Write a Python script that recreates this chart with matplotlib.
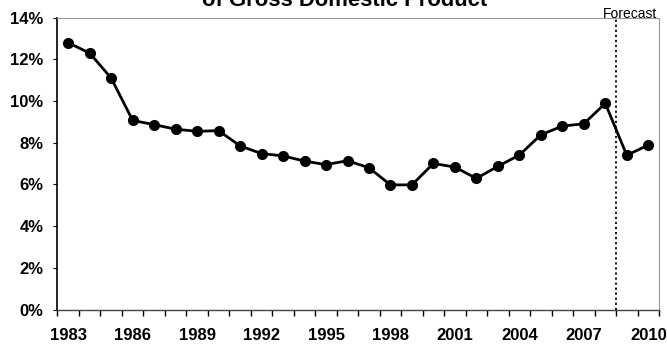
import matplotlib
matplotlib.use("Agg")
import matplotlib.pyplot as plt
from matplotlib.ticker import FixedLocator, FuncFormatter

plt.rcParams['font.family'] = ['Liberation Sans', 'DejaVu Sans']

years = list(range(1983, 2011))
share_pct = [12.8, 12.3, 11.1, 9.07, 8.87, 8.65, 8.55, 8.58, 7.85, 7.48,
             7.37, 7.12, 6.95, 7.14, 6.80, 5.98, 5.98, 7.01, 6.83, 6.29,
             6.87, 7.41, 8.38, 8.80, 8.91, 9.89, 7.40, 7.89]
label_years = [1983, 1986, 1989, 1992, 1995, 1998, 2001, 2004, 2007, 2010]
y_ticks = [0, 2, 4, 6, 8, 10, 12, 14]
forecast_start = 2009

fig = plt.figure(figsize=(6.67, 3.47), dpi=100)
ax = fig.add_axes([0.0862, 0.108, 0.9018, 0.841])

x = list(range(len(years)))
ax.plot(x, share_pct, color='black', lw=2.0, marker='o', ms=7,
        markerfacecolor='black', markeredgecolor='black', zorder=3)

ax.set_xlim(-0.5, len(years) - 0.5)
ax.set_ylim(0, 14)

# category boundaries carry the tick marks, labels sit on category centres
ax.xaxis.set_major_locator(FixedLocator([i - 0.5 for i in range(len(years) + 1)]))
ax.xaxis.set_major_formatter(FuncFormatter(lambda v, p: ''))
ax.xaxis.set_minor_locator(FixedLocator([years.index(y) for y in label_years]))
ax.xaxis.set_minor_formatter(FuncFormatter(lambda v, p: str(years[int(round(v))])))
ax.tick_params(axis='x', which='major', direction='out', length=4, width=1, color='black')
ax.tick_params(axis='x', which='minor', length=0, pad=13.5, labelsize=12)
for lbl in ax.get_xticklabels(minor=True):
    lbl.set_fontweight('bold')

ax.set_yticks(y_ticks)
ax.set_yticklabels([f'{v}%' for v in y_ticks], fontweight='bold', fontsize=12)
ax.tick_params(axis='y', direction='out', length=3, width=0.8, pad=7)

ax.spines['left'].set_color('black')
ax.spines['left'].set_linewidth(1.2)
ax.spines['bottom'].set_color('#444444')
ax.spines['bottom'].set_linewidth(1.0)
ax.spines['bottom'].set_linestyle((0, (2, 1)))
for side in ('top', 'right'):
    ax.spines[side].set_color('#999999')
    ax.spines[side].set_linewidth(0.8)
    ax.spines[side].set_linestyle((0, (1, 1)))

# forecast divider between last actual year and first projected year
fx = years.index(forecast_start) - 0.5
ax.axvline(fx, color='black', lw=1.3, linestyle=(0, (1.2, 1.6)), zorder=2)
ax.text(len(years) - 0.6, 14.0, 'Forecast', ha='right', va='baseline',
        fontsize=10, clip_on=False)

fig.text(0.516, 1 - 5.5 / 347, 'of Gross Domestic Product', ha='center',
         va='baseline', fontsize=15.8, fontweight='bold')

fig.savefig('out.png', dpi=100)
